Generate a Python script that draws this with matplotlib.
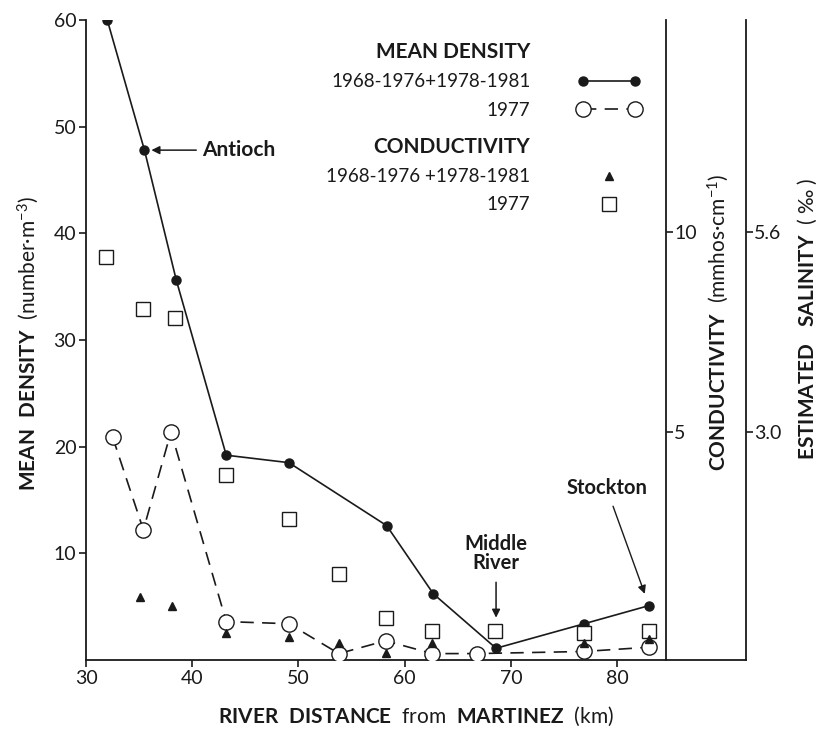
import matplotlib.pyplot as plt
from matplotlib.lines import Line2D

plt.rcParams['font.family'] = ['Lato', 'DejaVu Sans']
plt.rcParams['mathtext.fontset'] = 'custom'
plt.rcParams['mathtext.rm'] = 'Lato'
plt.rcParams['mathtext.bf'] = 'Lato:bold'
plt.rcParams['mathtext.it'] = 'Lato:italic'

# --- datos ---
# densidad media 1968-1976 + 1978-1981
km_mean = [32.0, 35.5, 38.5, 43.2, 49.1, 58.3, 62.7, 68.6, 76.9, 83.0]
dens_mean = [60.0, 47.8, 35.6, 19.2, 18.5, 12.6, 6.2, 1.1, 3.4, 5.1]
# densidad media 1977
km_77 = [32.5, 35.4, 38.0, 43.2, 49.1, 53.8, 58.2, 62.6, 66.8, 76.9, 83.0]
dens_77 = [20.9, 12.2, 21.4, 3.6, 3.4, 0.6, 1.8, 0.6, 0.6, 0.8, 1.2]
# conductividad (mmhos/cm) 1968-1976 + 1978-1981
km_cond = [35.1, 38.1, 43.2, 49.1, 53.8, 58.2, 62.6, 76.9, 83.0]
cond_mean = [0.88, 0.65, -0.03, -0.13, -0.28, -0.53, -0.28, -0.28, -0.18]
# conductividad 1977
km_cond77 = [31.9, 35.4, 38.4, 43.2, 49.1, 53.8, 58.2, 62.6, 68.5, 76.9, 83.0]
cond_77 = [9.38, 8.08, 7.85, 3.93, 2.83, 1.45, 0.35, 0.03, 0.03, -0.03, 0.03]

dens_ticks = [10, 20, 30, 40, 50, 60]
km_ticks = [30, 40, 50, 60, 70, 80]
cond_ticks = [5, 10]
sal_ticks = [3.0, 5.6]

ink = '#1a1a1a'
fig = plt.figure(figsize=(8.17, 7.30), dpi=100)
ax = fig.add_axes([0.1053, 0.0959, 0.7099, 0.8767])

ax.plot(km_mean, dens_mean, color=ink, lw=1.2, marker='o', ms=6.5,
        label='1968-1976+1978-1981', zorder=4)
ax.plot(km_77, dens_77, color=ink, lw=1.2, ls=(0, (8, 5)), marker='o', ms=11,
        mfc='white', mec=ink, mew=1.0, label='1977', zorder=3)

ax.set_xlim(30, 84.6)
ax.set_ylim(0, 60)
ax.set_xticks(km_ticks)
ax.set_yticks(dens_ticks)
ax.spines['top'].set_visible(False)
ax.spines['right'].set_visible(False)
ax.spines['bottom'].set_bounds(30, 92.1)
for s in ax.spines.values():
    s.set_color(ink)
    s.set_linewidth(1.3)
ax.tick_params(direction='out', length=5, width=1.2, labelsize=14, pad=2, colors=ink)

# eje de conductividad
cax = ax.twinx()
cax.plot(km_cond, cond_mean, ls='none', marker='^', ms=5.5, color=ink,
         label='1968-1976 +1978-1981', zorder=5)
cax.plot(km_cond77, cond_77, ls='none', marker='s', ms=10, mfc='white',
         mec=ink, mew=1.0, label='1977', zorder=2)
cax.set_ylim(-0.7, 15.3)
cax.set_yticks(cond_ticks)
for side in ['top', 'left', 'bottom']:
    cax.spines[side].set_visible(False)
cax.spines['right'].set_color(ink)
cax.spines['right'].set_linewidth(1.3)
cax.tick_params(direction='out', length=5, width=1.2, labelsize=14, pad=1, colors=ink)

# salinidad estimada a partir de la conductividad
sax = cax.secondary_yaxis(1.138, functions=(lambda c: 0.52 * c + 0.4,
                                            lambda s: (s - 0.4) / 0.52))
sax.set_yticks(sal_ticks)
sax.set_yticklabels(['3.0', '5.6'])
sax.spines['right'].set_color(ink)
sax.spines['right'].set_linewidth(1.3)
sax.tick_params(direction='out', length=5, width=1.2, labelsize=14, pad=1, colors=ink)

# etiquetas de ejes
ax.set_ylabel(r'$\mathbf{MEAN\ \ DENSITY}$  (number·m$^{-3}$)', fontsize=15,
              ha='center', va='center', color=ink)
ax.yaxis.set_label_coords(-0.100, 0.495)
ax.set_xlabel(r'$\mathbf{RIVER\ \ DISTANCE}$  from  $\mathbf{MARTINEZ}$  (km)',
              fontsize=15, ha='center', va='center', color=ink)
ax.xaxis.set_label_coords(0.569, -0.088)
cax.set_ylabel(r'$\mathbf{CONDUCTIVITY}$  (mmhos·cm$^{-1}$)', fontsize=15,
               ha='center', va='center', color=ink)
cax.yaxis.set_label_coords(1.090, 0.527)
fig.text(807 / 817, 1 - 319 / 730, r'$\mathbf{ESTIMATED\ \ \ SALINITY}$  ( ‰ )',
         fontsize=15, rotation=90, ha='center', va='center', color=ink)

# anotaciones de sitios
ax.annotate('Antioch', xy=(km_mean[1], dens_mean[1]), xytext=(40.9, dens_mean[1]),
            ha='left', va='center', fontsize=15, fontweight='bold', color=ink,
            arrowprops=dict(arrowstyle='-|>', color=ink, lw=1.1, shrinkA=2, shrinkB=5,
                            mutation_scale=12))
ax.annotate('Middle\nRiver', xy=(km_mean[7], dens_mean[7]), xytext=(km_mean[7], 10.0),
            ha='center', va='center', fontsize=14.5, fontweight='bold', color=ink,
            linespacing=0.9,
            arrowprops=dict(arrowstyle='-|>', color=ink, lw=1.1, shrinkA=5, shrinkB=22,
                            mutation_scale=12))
ax.annotate('Stockton', xy=(km_mean[9], dens_mean[9]), xytext=(79.0, 16.1),
            ha='center', va='center', fontsize=14.5, fontweight='bold', color=ink,
            arrowprops=dict(arrowstyle='-|>', color=ink, lw=1.0, shrinkA=4, shrinkB=9,
                            mutation_scale=12))

# leyendas (encabezado como entrada sin simbolo, para alinear a la derecha con el texto)
blank = Line2D([], [], ls='none', marker='none')
h1, l1 = ax.get_legend_handles_labels()
h2, l2 = cax.get_legend_handles_labels()
legend_kw = dict(loc='upper right', frameon=False, markerfirst=False, fontsize=13.5,
                 handlelength=3.4, handletextpad=2.5, labelspacing=0.6,
                 borderpad=0, borderaxespad=0)
leg1 = fig.legend([blank] + h1, ['MEAN DENSITY'] + l1, numpoints=2,
                  bbox_to_anchor=(641 / 817, 1 - 42 / 730), **legend_kw)
leg2 = fig.legend([blank] + h2, ['CONDUCTIVITY'] + l2, numpoints=1,
                  bbox_to_anchor=(641 / 817, 1 - 137 / 730), **legend_kw)
for leg in (leg1, leg2):
    texts = leg.get_texts()
    for t in texts:
        t.set_color(ink)
    texts[0].set_fontweight('bold')
    texts[0].set_fontsize(15)

fig.savefig('out.png', dpi=100, facecolor='white')
